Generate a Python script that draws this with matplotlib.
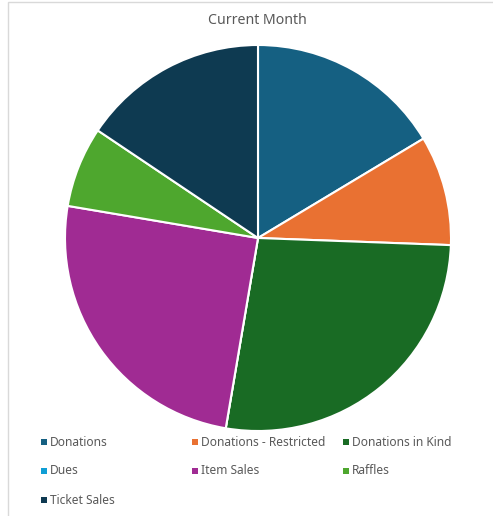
import matplotlib
matplotlib.use("Agg")
import matplotlib.pyplot as plt
from matplotlib.patches import Rectangle

categories = ["Donations", "Donations - Restricted", "Donations in Kind", "Dues",
              "Item Sales", "Raffles", "Ticket Sales"]
values = [16.4, 9.2, 27.1, 0.0, 25.0, 6.75, 15.6]
colors = ["#156082", "#E97132", "#196B24", "#0F9ED5", "#A02B93", "#4EA72E", "#0E3A51"]
title = "Current Month"

W, H = 493, 516
fig = plt.figure(figsize=(W / 100, H / 100), dpi=100)
plt.rcParams['font.family'] = ['Noto Sans', 'DejaVu Sans']

# chart border (left/top visible)
fig.patches.append(Rectangle((8 / W, -0.1), 1.2, (H - 2) / H + 0.1, transform=fig.transFigure,
                             fill=False, edgecolor="#d9d9d9", linewidth=1))

cx, cy, r = 258, 238, 193
ax = fig.add_axes([(cx - r) / W, (H - cy - r) / H, 2 * r / W, 2 * r / H])
ax.pie(values, colors=colors, startangle=90, counterclock=False,
       wedgeprops=dict(edgecolor="white", linewidth=1.5))
ax.set_xlim(-1, 1)
ax.set_ylim(-1, 1)
ax.set_aspect("equal")
ax.axis("off")

fig.text(257 / W, 1 - 21 / H, title, ha="center", va="center", fontsize=10.2, color="#595959")

col_x = [41, 192, 343]
row_y = [442, 471, 500]
for i, (lab, col) in enumerate(zip(categories, colors)):
    x = col_x[i % 3]
    y = row_y[i // 3]
    fig.patches.append(Rectangle((x / W, 1 - (y + 3) / H), 6 / W, 6 / H,
                                 transform=fig.transFigure, facecolor=col, edgecolor="none"))
    fig.text((x + 9) / W, 1 - y / H, lab, ha="left", va="center", fontsize=8.6, color="#595959")

fig.savefig("out.png", dpi=100)
